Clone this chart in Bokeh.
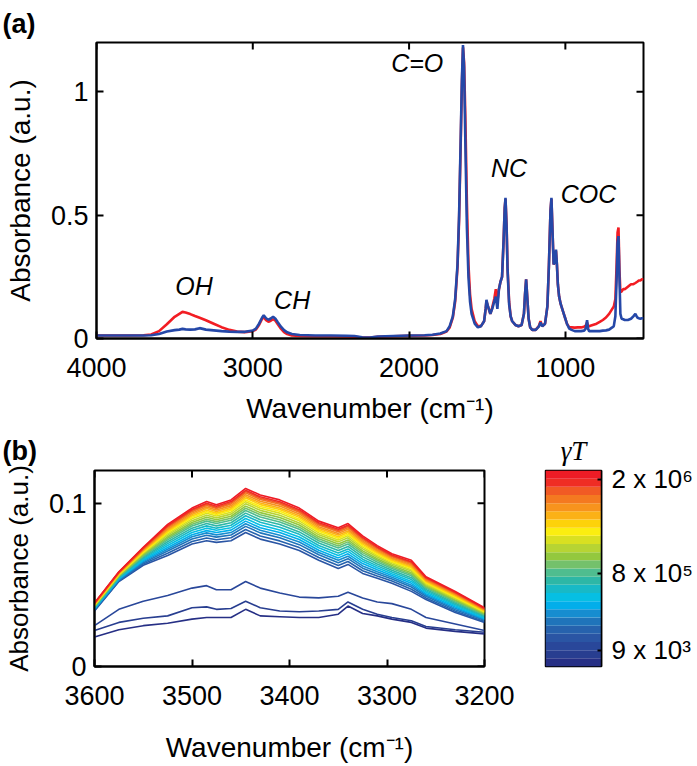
import numpy as np
from bokeh.plotting import figure
from bokeh.models import Range1d, FixedTicker, ColumnDataSource
from bokeh.layouts import column, row
from bokeh.embed import file_html
from bokeh.resources import INLINE
from bokeh.core.properties import value

FONT = "Liberation Sans"
SERIF = "Liberation Serif"

# ---------------- Panel (a) data ----------------
wn_a = [4000, 3900, 3800, 3700, 3650, 3600, 3550, 3500, 3470, 3450, 3430, 3400, 3370, 3340,
        3300, 3250, 3200, 3150, 3100, 3050, 3000, 2980, 2960, 2940, 2930, 2915, 2900, 2885,
        2870, 2855, 2840, 2820, 2800, 2780, 2750, 2700, 2600, 2500, 2400, 2350, 2300, 2250,
        2200, 2100, 2000, 1900, 1850, 1800, 1760, 1740, 1720, 1705, 1690, 1680, 1670, 1662,
        1655, 1648, 1640, 1630, 1620, 1610, 1600, 1580, 1560, 1540, 1520, 1510, 1505, 1495,
        1480, 1468, 1455, 1445, 1435, 1425, 1415, 1405, 1395, 1388, 1383, 1376, 1370, 1360,
        1350, 1340, 1320, 1300, 1280, 1265, 1258, 1251, 1244, 1235, 1225, 1212, 1190, 1170,
        1159, 1148, 1130, 1115, 1105, 1095, 1089, 1083, 1075, 1068, 1060, 1054, 1048, 1040,
        1030, 1020, 1010, 1000, 990, 975, 960, 940, 920, 900, 880, 870, 861, 855, 848, 840,
        820, 800, 780, 760, 740, 720, 700, 690, 680, 672, 666, 660, 654, 648, 640, 630, 620,
        600, 580, 565, 552, 540, 530, 520, 510, 500]
abs_red = [0.012, 0.012, 0.012, 0.013, 0.016, 0.030, 0.058, 0.088, 0.100, 0.108, 0.105, 0.099, 0.091, 0.084,
           0.074, 0.060, 0.046, 0.035, 0.028, 0.026, 0.030, 0.036, 0.055, 0.080, 0.086, 0.074, 0.068, 0.072,
           0.078, 0.072, 0.058, 0.040, 0.026, 0.018, 0.012, 0.010, 0.009, 0.009, 0.008, 0.007, 0.004, 0.004,
           0.007, 0.009, 0.011, 0.012, 0.014, 0.018, 0.028, 0.045, 0.085, 0.150, 0.290, 0.480, 0.780, 1.030,
           1.180, 1.120, 0.900, 0.550, 0.300, 0.180, 0.120, 0.070, 0.050, 0.050, 0.070, 0.120, 0.150, 0.130,
           0.100, 0.125, 0.160, 0.200, 0.150, 0.200, 0.230, 0.250, 0.400, 0.530, 0.565, 0.460, 0.290, 0.150,
           0.090, 0.070, 0.055, 0.050, 0.055, 0.100, 0.180, 0.240, 0.170, 0.080, 0.045, 0.035, 0.035, 0.050,
           0.070, 0.050, 0.060, 0.130, 0.300, 0.520, 0.565, 0.450, 0.300, 0.310, 0.355, 0.300, 0.220, 0.170,
           0.140, 0.120, 0.100, 0.080, 0.060, 0.045, 0.045, 0.044, 0.045, 0.045, 0.048, 0.052, 0.065, 0.050, 0.050, 0.052,
           0.056, 0.060, 0.067, 0.075, 0.085, 0.100, 0.120, 0.130, 0.160, 0.300, 0.430, 0.450, 0.280, 0.190, 0.190, 0.200, 0.200,
           0.210, 0.220, 0.220, 0.225, 0.230, 0.235, 0.235, 0.240, 0.240]
abs_blue = [0.012, 0.012, 0.012, 0.012, 0.013, 0.018, 0.028, 0.034, 0.036, 0.039, 0.037, 0.036, 0.037, 0.042,
            0.036, 0.033, 0.030, 0.028, 0.027, 0.027, 0.032, 0.040, 0.060, 0.085, 0.094, 0.082, 0.076, 0.081,
            0.088, 0.080, 0.066, 0.048, 0.034, 0.025, 0.018, 0.014, 0.012, 0.012, 0.011, 0.010, 0.005, 0.004,
            0.008, 0.010, 0.012, 0.013, 0.015, 0.020, 0.030, 0.050, 0.090, 0.160, 0.300, 0.500, 0.800, 1.050,
            1.190, 1.100, 0.800, 0.450, 0.250, 0.150, 0.100, 0.060, 0.045, 0.050, 0.070, 0.120, 0.157, 0.130,
            0.100, 0.120, 0.150, 0.170, 0.120, 0.200, 0.230, 0.250, 0.400, 0.530, 0.570, 0.450, 0.280, 0.140,
            0.090, 0.070, 0.055, 0.050, 0.055, 0.100, 0.180, 0.240, 0.170, 0.080, 0.045, 0.035, 0.035, 0.048,
            0.065, 0.050, 0.060, 0.130, 0.300, 0.520, 0.570, 0.450, 0.300, 0.310, 0.360, 0.300, 0.220, 0.170,
            0.140, 0.120, 0.100, 0.080, 0.060, 0.040, 0.035, 0.030, 0.030, 0.030, 0.032, 0.040, 0.074, 0.040, 0.030, 0.030,
            0.030, 0.030, 0.030, 0.032, 0.033, 0.036, 0.045, 0.050, 0.090, 0.240, 0.390, 0.415, 0.250, 0.100, 0.080, 0.078, 0.075,
            0.075, 0.080, 0.090, 0.100, 0.085, 0.082, 0.080, 0.082, 0.082]

peak_names = ["OH", "CH", "C=O", "NC", "COC"]
peak_label_x = [3376, 2748, 1948, 1360, 852]
peak_label_y = [0.214, 0.157, 1.115, 0.69, 0.585]

# ---------------- Panel (b) data ----------------
wn_b = [3600, 3575, 3550, 3525, 3500, 3485, 3475, 3460, 3445, 3430, 3410,
        3390, 3370, 3350, 3340, 3325, 3310, 3295, 3275, 3260, 3230, 3200]

# three low-gamma curves (dark blue)
abs_low = [
    [0.018, 0.0225, 0.025, 0.0265, 0.029, 0.030, 0.030, 0.030, 0.035, 0.031, 0.0305,
     0.030, 0.030, 0.032, 0.037, 0.0325, 0.031, 0.029, 0.027, 0.0235, 0.0215, 0.020],
    [0.022, 0.027, 0.0295, 0.031, 0.036, 0.0365, 0.035, 0.0355, 0.040, 0.036, 0.034,
     0.0335, 0.034, 0.035, 0.0395, 0.035, 0.032, 0.030, 0.028, 0.0245, 0.0225, 0.021],
    [0.025, 0.035, 0.040, 0.0435, 0.048, 0.0495, 0.047, 0.047, 0.052, 0.048, 0.045,
     0.0425, 0.042, 0.043, 0.0455, 0.042, 0.0395, 0.0385, 0.035, 0.030, 0.026, 0.022],
]

# coloured family: for each wavenumber in wn_b, absorbance of the 21 curves (low gamma -> high gamma)
abs_family_by_wn = [
    [.0340, .0344, .0347, .0350, .0353, .0356, .0359, .0362, .0365, .0368, .0370, .0373, .0375, .0377, .0379, .0381, .0383, .0385, .0387, .0388, .0390],
    [.0520, .0524, .0528, .0532, .0536, .0539, .0543, .0546, .0550, .0553, .0556, .0559, .0562, .0564, .0567, .0569, .0572, .0574, .0576, .0578, .0580],
    [.0620, .0628, .0635, .0642, .0649, .0655, .0662, .0668, .0675, .0681, .0686, .0692, .0697, .0701, .0706, .0710, .0715, .0719, .0722, .0726, .0730],
    [.0680, .0693, .0707, .0718, .0729, .0741, .0752, .0764, .0775, .0785, .0794, .0804, .0813, .0821, .0828, .0836, .0843, .0851, .0857, .0862, .0870],
    [.0750, .0765, .0781, .0794, .0807, .0820, .0834, .0847, .0860, .0871, .0882, .0893, .0904, .0913, .0922, .0930, .0939, .0948, .0955, .0961, .0970],
    [.0770, .0787, .0804, .0818, .0832, .0847, .0861, .0876, .0890, .0902, .0914, .0926, .0938, .0948, .0957, .0967, .0976, .0986, .0993, .1000, .1010],
    [.0760, .0776, .0792, .0806, .0820, .0834, .0847, .0861, .0875, .0887, .0898, .0910, .0921, .0930, .0939, .0949, .0958, .0967, .0974, .0981, .0990],
    [.0770, .0788, .0805, .0820, .0835, .0850, .0865, .0880, .0895, .0908, .0920, .0933, .0945, .0955, .0965, .0975, .0985, .0995, .1003, .1010, .1020],
    [.0820, .0839, .0858, .0874, .0890, .0906, .0923, .0939, .0955, .0969, .0982, .0996, .1009, .1020, .1031, .1041, .1052, .1063, .1071, .1079, .1090],
    [.0780, .0799, .0818, .0834, .0850, .0866, .0883, .0899, .0915, .0929, .0942, .0956, .0969, .0980, .0991, .1001, .1012, .1023, .1031, .1039, .1050],
    [.0750, .0769, .0788, .0804, .0820, .0836, .0853, .0869, .0885, .0899, .0912, .0926, .0939, .0950, .0961, .0971, .0982, .0993, .1001, .1009, .1020],
    [.0710, .0728, .0746, .0762, .0778, .0793, .0809, .0824, .0840, .0853, .0866, .0879, .0892, .0902, .0913, .0923, .0934, .0944, .0952, .0960, .0970],
    [.0650, .0667, .0684, .0698, .0712, .0727, .0741, .0756, .0770, .0782, .0794, .0806, .0818, .0828, .0837, .0847, .0856, .0866, .0873, .0880, .0890],
    [.0600, .0618, .0635, .0650, .0665, .0680, .0695, .0710, .0725, .0738, .0750, .0763, .0775, .0785, .0795, .0805, .0815, .0825, .0833, .0840, .0850],
    [.0625, .0643, .0660, .0675, .0690, .0705, .0720, .0735, .0750, .0763, .0775, .0788, .0800, .0810, .0820, .0830, .0840, .0850, .0858, .0865, .0875],
    [.0570, .0586, .0602, .0616, .0630, .0644, .0657, .0671, .0685, .0697, .0708, .0720, .0731, .0740, .0749, .0759, .0768, .0777, .0784, .0791, .0800],
    [.0540, .0554, .0568, .0580, .0592, .0604, .0616, .0628, .0640, .0650, .0660, .0670, .0680, .0688, .0696, .0704, .0712, .0720, .0726, .0732, .0740],
    [.0510, .0523, .0535, .0546, .0557, .0568, .0578, .0589, .0600, .0609, .0618, .0627, .0636, .0643, .0650, .0658, .0665, .0672, .0677, .0683, .0690],
    [.0460, .0473, .0487, .0498, .0509, .0521, .0532, .0544, .0555, .0565, .0574, .0584, .0593, .0601, .0608, .0616, .0623, .0631, .0637, .0642, .0650],
    [.0410, .0420, .0430, .0438, .0446, .0455, .0463, .0472, .0480, .0487, .0494, .0501, .0508, .0514, .0519, .0525, .0530, .0536, .0540, .0544, .0550],
    [.0330, .0339, .0348, .0356, .0364, .0372, .0379, .0387, .0395, .0402, .0408, .0415, .0421, .0426, .0431, .0437, .0442, .0447, .0451, .0455, .0460],
    [.0270, .0276, .0283, .0288, .0293, .0299, .0304, .0310, .0315, .0320, .0324, .0329, .0333, .0337, .0340, .0344, .0347, .0351, .0354, .0356, .0360],
]

# colour bar bands (bottom -> top), also used for the curves
band_colors = ["#262f85", "#283e90", "#29479a", "#2a55a4", "#2662ad", "#1f74ba", "#168dd0",
               "#02aeea", "#06bfe3", "#18b9c6", "#2db7a6", "#4fbd8f", "#74c16b", "#93c83e",
               "#b7d433", "#d9e021", "#fbee10", "#fdd20a", "#fbb116", "#f7931d", "#f47920",
               "#f15a24", "#ef2d24", "#ee1c25"]
cb_tick_labels = ["9 x 10\u00b3", "8 x 10\u2075", "2 x 10\u2076"]
cb_tick_pos = [2, 11.4, 22.9]


def style_axis(ax, title_size="28px"):
    ax.major_tick_in = 7
    ax.major_tick_out = 0
    ax.minor_tick_line_color = None
    ax.axis_line_width = 2
    ax.axis_line_color = "black"
    ax.major_tick_line_width = 2
    ax.major_tick_line_color = "black"
    ax.major_label_text_font = FONT
    ax.major_label_text_color = "black"
    ax.major_label_text_font_size = "27px"
    ax.axis_label_text_font = FONT
    ax.axis_label_text_font_size = title_size
    ax.axis_label_text_font_style = "normal"
    ax.axis_label_text_color = "black"


def style_title(t, text, offset, standoff):
    t.text = text
    t.align = "left"
    t.vertical_align = "top"
    t.offset = offset
    t.standoff = standoff
    t.text_font = FONT
    t.text_font_size = "27px"
    t.text_font_style = "bold"
    t.text_color = "black"


def mirror_ticks(p, xticks, yticks, x_end, y_end):
    # inward tick marks on the top and right edges of the frame (clipped to the frame)
    p.scatter(x=xticks, y=[y_end] * len(xticks), marker="dash", angle=np.pi / 2, size=14,
              line_color="black", line_width=2)
    p.scatter(x=[x_end] * len(yticks), y=yticks, marker="dash", size=14,
              line_color="black", line_width=2)


# ---------------- Figure (a) ----------------
xa_lo, xa_hi, ya_lo, ya_hi = 4000, 500, 0, 1.2
pa = figure(width=690, height=426, x_range=Range1d(xa_lo, xa_hi), y_range=Range1d(ya_lo, ya_hi),
            output_backend="svg", toolbar_location=None,
            min_border_left=96, min_border_right=47, min_border_top=42, min_border_bottom=87)
pa.grid.visible = False
pa.outline_line_color = "black"
pa.outline_line_width = 2
xt_a = [4000, 3000, 2000, 1000]
yt_a = [0, 0.5, 1]
pa.xaxis.ticker = FixedTicker(ticks=xt_a)
pa.yaxis.ticker = FixedTicker(ticks=yt_a)
pa.yaxis.major_label_overrides = {0: "0", 0.5: "0.5", 1: "1"}
pa.xaxis.axis_label = "Wavenumber (cm\u207b\u00b9)"
pa.yaxis.axis_label = "Absorbance (a.u.)"
style_axis(pa.xaxis[0])
style_axis(pa.yaxis[0])
pa.xaxis.major_label_standoff = 19
pa.xaxis.axis_label_standoff = 13
pa.yaxis.major_label_standoff = 8
pa.yaxis.axis_label_standoff = 12
style_title(pa.title, "(a)", -94, 4)

src_a = ColumnDataSource(dict(wn=wn_a, red=abs_red, blue=abs_blue))
pa.line("wn", "red", source=src_a, line_color="#f21d23", line_width=2.6)
pa.line("wn", "blue", source=src_a, line_color="#2548a8", line_width=2.6)
pa.text(x=peak_label_x, y=peak_label_y, text=peak_names, text_font=value(FONT),
        text_font_style="italic", text_font_size="25px", text_align="center",
        text_baseline="middle", text_color="black")
mirror_ticks(pa, xt_a, yt_a, xa_hi, ya_hi)

# ---------------- Figure (b) ----------------
xb_lo, xb_hi, yb_lo, yb_hi = 3600, 3200, 0, 0.12
pb = figure(width=515, height=339, x_range=Range1d(xb_lo, xb_hi), y_range=Range1d(yb_lo, yb_hi),
            output_backend="svg", toolbar_location=None,
            min_border_left=94, min_border_right=31, min_border_top=44, min_border_bottom=99)
pb.grid.visible = False
pb.outline_line_color = "black"
pb.outline_line_width = 2
xt_b = [3600, 3500, 3400, 3300, 3200]
yt_b = [0, 0.1]
pb.xaxis.ticker = FixedTicker(ticks=xt_b)
pb.yaxis.ticker = FixedTicker(ticks=yt_b)
pb.yaxis.major_label_overrides = {0: "0", 0.1: "0.1"}
pb.xaxis.axis_label = "Wavenumber (cm\u207b\u00b9)"
pb.yaxis.axis_label = "Absorbance (a.u.)"
style_axis(pb.xaxis[0])
style_axis(pb.yaxis[0], title_size="26px")
pb.xaxis.major_label_standoff = 19
pb.xaxis.axis_label_standoff = 24
pb.yaxis.major_label_standoff = 8
pb.yaxis.axis_label_standoff = 12
style_title(pb.title, "(b)", -92, 6)

family = np.array(abs_family_by_wn).T
curves = list(abs_low) + [list(r) for r in family]
for ys, col in zip(curves, band_colors):
    pb.line(wn_b, ys, line_color=col, line_width=1.6)
mirror_ticks(pb, xt_b, yt_b, xb_hi, yb_hi)

# ---------------- Colour bar ----------------
pc = figure(width=181, height=339, x_range=Range1d(0, 1), y_range=Range1d(0, len(band_colors)),
            output_backend="svg", toolbar_location=None, x_axis_location=None,
            y_axis_location="right",
            min_border_left=30, min_border_right=94, min_border_top=44, min_border_bottom=99)
pc.grid.visible = False
pc.outline_line_color = "black"
pc.outline_line_width = 1.5
idx = np.arange(len(band_colors))
pc.quad(left=0, right=1, bottom=idx, top=idx + 1, fill_color=band_colors, line_color=None)
pc.yaxis.ticker = FixedTicker(ticks=cb_tick_pos)
pc.yaxis.major_label_overrides = {p: t for p, t in zip(cb_tick_pos, cb_tick_labels)}
style_axis(pc.yaxis[0])
pc.yaxis.major_tick_in = 4
pc.yaxis.axis_line_width = 1.5
pc.yaxis.major_label_text_font_size = "26px"
pc.yaxis.major_label_standoff = 10
pc.title.text = "\u03b3T"
pc.title.align = "center"
pc.title.standoff = 9
pc.title.text_font = SERIF
pc.title.text_font_style = "italic"
pc.title.text_font_size = "27px"
pc.title.text_color = "black"

layout = column(pa, row(pb, pc))
open("out.html", "w").write(file_html(layout, INLINE))
